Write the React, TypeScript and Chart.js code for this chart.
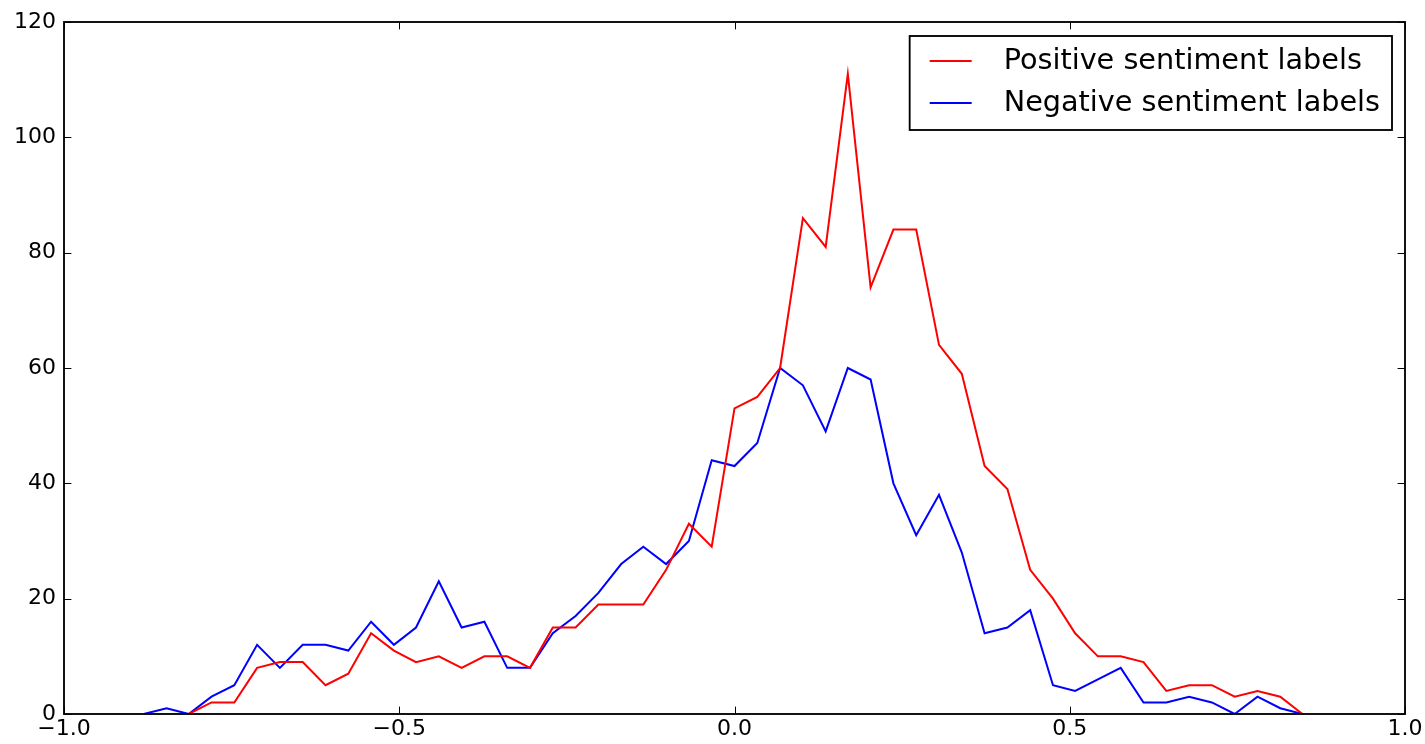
import React, { useEffect, useRef } from "react";
import { Chart, registerables } from "chart.js";

Chart.register(...registerables);

// Histogram bin centres (x) that carry visible data
const binCenters = [
  -0.881, -0.847, -0.814, -0.78, -0.746, -0.712, -0.678, -0.644, -0.61, -0.576,
  -0.542, -0.508, -0.475, -0.441, -0.407, -0.373, -0.339, -0.305, -0.271, -0.237,
  -0.203, -0.169, -0.136, -0.102, -0.068, -0.034, 0.0, 0.034, 0.068, 0.102,
  0.136, 0.169, 0.203, 0.237, 0.271, 0.305, 0.339, 0.373, 0.407, 0.441,
  0.475, 0.508, 0.542, 0.576, 0.61, 0.644, 0.678, 0.712, 0.746, 0.78,
  0.814, 0.847,
];

const positiveCounts = [
  null, null, 0, 2, 2, 8, 9, 9, 5, 7,
  14, 11, 9, 10, 8, 10, 10, 8, 15, 15,
  19, 19, 19, 25, 33, 29, 53, 55, 60, 86,
  81, 111, 74, 84, 84, 64, 59, 43, 39, 25,
  20, 14, 10, 10, 9, 4, 5, 5, 3, 4,
  3, 0,
];

const negativeCounts = [
  0, 1, 0, 3, 5, 12, 8, 12, 12, 11,
  16, 12, 15, 23, 15, 16, 8, 8, 14, 17,
  21, 26, 29, 26, 30, 44, 43, 47, 60, 57,
  49, 60, 58, 40, 31, 38, 28, 14, 15, 18,
  5, 4, 6, 8, 2, 2, 3, 2, 0, 3,
  1, 0,
];

const seriesLabels = ["Positive sentiment labels", "Negative sentiment labels"];
const seriesColors = ["#ff0000", "#0000ff"];

const xTickValues = [-1.0, -0.5, 0.0, 0.5, 1.0];
const yTickValues = [0, 20, 40, 60, 80, 100, 120];

const FONT = "'DejaVu Sans', 'Liberation Sans', sans-serif";
const LW = 2;

const framePlugin = {
  id: "mplFrame",
  afterDatasetsDraw(chart: any) {
    const { ctx, chartArea } = chart;
    const { left, right, top, bottom } = chartArea;
    const xs = chart.scales.x;
    const ys = chart.scales.y;
    ctx.save();
    // inward ticks
    ctx.strokeStyle = "#000";
    ctx.lineWidth = 1;
    const tl = 7.4;
    ctx.beginPath();
    for (const v of xTickValues) {
      const px = Math.round(xs.getPixelForValue(v)) + 0.5;
      ctx.moveTo(px, bottom);
      ctx.lineTo(px, bottom - tl);
      ctx.moveTo(px, top);
      ctx.lineTo(px, top + tl);
    }
    for (const v of yTickValues) {
      const py = Math.round(ys.getPixelForValue(v)) + 0.5;
      ctx.moveTo(left, py);
      ctx.lineTo(left + tl, py);
      ctx.moveTo(right, py);
      ctx.lineTo(right - tl, py);
    }
    ctx.stroke();
    // frame
    ctx.lineWidth = 1.85;
    ctx.strokeRect(left, top, right - left, bottom - top);

    // legend
    const fontSize = 28.7;
    ctx.font = `${fontSize}px ${FONT}`;
    const datasets = chart.data.datasets;
    let maxW = 0;
    for (const d of datasets) maxW = Math.max(maxW, ctx.measureText(d.label).width);
    const boxRight = right - 13;
    const boxTop = top + 14;
    const boxW = 94 + maxW + 12;
    const boxH = 94;
    const boxLeft = boxRight - boxW;
    ctx.fillStyle = "#fff";
    ctx.fillRect(boxLeft, boxTop, boxW, boxH);
    ctx.strokeStyle = "#000";
    ctx.lineWidth = 1.85;
    ctx.strokeRect(boxLeft, boxTop, boxW, boxH);
    datasets.forEach((d: any, i: number) => {
      const y = boxTop + 25 + i * 42;
      ctx.strokeStyle = d.borderColor;
      ctx.lineWidth = LW;
      ctx.beginPath();
      ctx.moveTo(boxLeft + 20, y);
      ctx.lineTo(boxLeft + 62, y);
      ctx.stroke();
      ctx.fillStyle = "#000";
      ctx.textBaseline = "middle";
      ctx.textAlign = "left";
      ctx.fillText(d.label, boxLeft + 94, y + 1);
    });
    ctx.restore();
  },
};

function fmtX(v: number) {
  const s = Math.abs(v).toFixed(1);
  return v < -1e-9 ? "\u2212" + s : s;
}

export default function App() {
  const canvasRef = useRef<HTMLCanvasElement | null>(null);

  useEffect(() => {
    const canvas = canvasRef.current;
    if (!canvas) return;
    const chart = new Chart(canvas, {
      type: "line",
      data: {
        datasets: [
          {
            label: seriesLabels[0],
            data: binCenters.map((x, i) => ({ x, y: positiveCounts[i] })),
            borderColor: seriesColors[0],
            backgroundColor: seriesColors[0],
            borderWidth: LW,
            pointRadius: 0,
            tension: 0,
            fill: false,
            spanGaps: false,
          },
          {
            label: seriesLabels[1],
            data: binCenters.map((x, i) => ({ x, y: negativeCounts[i] })),
            borderColor: seriesColors[1],
            backgroundColor: seriesColors[1],
            borderWidth: LW,
            pointRadius: 0,
            tension: 0,
            fill: false,
            spanGaps: false,
          },
        ] as any,
      },
      options: {
        responsive: false,
        animation: false,
        events: [],
        layout: { padding: { top: 22, right: 20, left: 0, bottom: 0 } },
        plugins: { legend: { display: false }, tooltip: { enabled: false } },
        scales: {
          x: {
            type: "linear",
            min: -1,
            max: 1,
            afterBuildTicks: (s: any) => {
              s.ticks = xTickValues.map((v) => ({ value: v }));
            },
            afterFit: (s: any) => {
              s.height = 30;
            },
            ticks: {
              callback: (v: any) => fmtX(Number(v)),
              color: "#000",
              font: { family: FONT, size: 22 },
              padding: 2,
              maxRotation: 0,
              autoSkip: false,
            },
            grid: { display: false, drawTicks: false },
            border: { display: false },
          },
          y: {
            type: "linear",
            min: 0,
            max: 120,
            afterBuildTicks: (s: any) => {
              s.ticks = yTickValues.map((v) => ({ value: v }));
            },
            afterFit: (s: any) => {
              s.width = 64;
            },
            ticks: {
              callback: (v: any) => String(v),
              color: "#000",
              font: { family: FONT, size: 22 },
              padding: 8,
            },
            grid: { display: false, drawTicks: false },
            border: { display: false },
          },
        },
      },
      plugins: [framePlugin],
    });
    return () => chart.destroy();
  }, []);

  return (
    <div style={{ position: "absolute", left: 0, top: 0, width: 1425, height: 744, background: "#fff" }}>
      <canvas ref={canvasRef} width={1425} height={744} style={{ display: "block" }} />
    </div>
  );
}
